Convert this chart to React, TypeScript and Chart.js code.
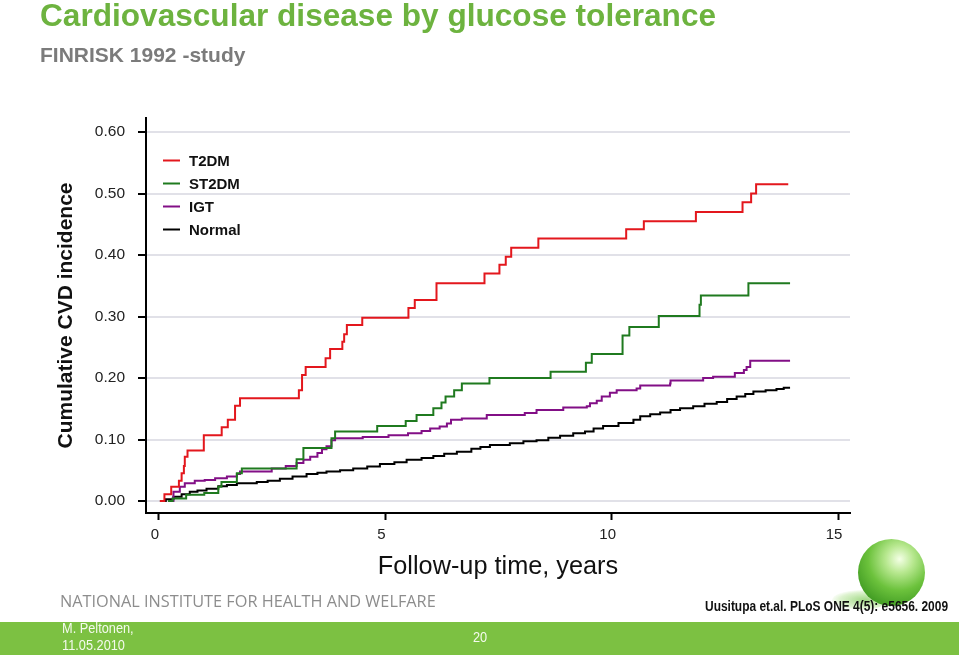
import React, { useEffect, useRef } from "react";
import { Chart, registerables } from "chart.js";

Chart.register(...registerables);

// ---------------- data ----------------
const seriesLabels = ["T2DM", "ST2DM", "IGT", "Normal"];
const seriesColors = ["#e3171d", "#1f7a1f", "#820f86", "#000000"];

const t2dmTimes = [0.02, 0.12, 0.27, 0.44, 0.5, 0.55, 0.57, 0.63, 0.99, 1.385, 1.52, 1.68, 1.79, 3.09, 3.16, 3.24, 3.68, 3.78, 4.05, 4.09, 4.15, 4.49, 5.51, 5.65, 6.13, 7.19, 7.52, 7.66, 7.78, 8.38, 10.32, 10.71, 11.86, 12.89, 13.08, 13.19, 13.9];
const t2dmValues = [0, 0.011, 0.023, 0.033, 0.045, 0.057, 0.072, 0.082, 0.107, 0.12, 0.132, 0.155, 0.167, 0.18, 0.205, 0.218, 0.232, 0.247, 0.259, 0.271, 0.286, 0.298, 0.314, 0.327, 0.354, 0.37, 0.384, 0.397, 0.412, 0.427, 0.442, 0.455, 0.47, 0.486, 0.5, 0.515, 0.515];

const st2dmTimes = [0.2, 0.3, 0.6, 1.0, 1.31, 1.38, 1.72, 1.83, 3.04, 3.19, 3.81, 3.89, 4.82, 5.45, 5.69, 6.06, 6.24, 6.33, 6.52, 6.69, 7.3, 8.65, 9.43, 9.56, 10.24, 10.39, 11.04, 11.94, 11.97, 13.02, 13.94];
const st2dmValues = [0, 0.004, 0.01, 0.013, 0.023, 0.031, 0.045, 0.053, 0.068, 0.086, 0.102, 0.113, 0.122, 0.13, 0.14, 0.151, 0.16, 0.17, 0.18, 0.191, 0.2, 0.21, 0.225, 0.239, 0.269, 0.283, 0.301, 0.319, 0.334, 0.354, 0.354];

const igtTimes = [0.28, 0.32, 0.46, 0.57, 0.79, 1.01, 1.24, 1.5, 1.72, 1.79, 2.49, 2.8, 3.04, 3.19, 3.34, 3.5, 3.6, 3.7, 3.81, 3.89, 4.5, 5.07, 5.5, 5.8, 5.99, 6.2, 6.36, 6.45, 6.69, 7.24, 8.08, 8.34, 8.93, 9.45, 9.52, 9.67, 9.78, 9.96, 10.11, 10.55, 10.63, 11.29, 11.3, 12.02, 12.24, 12.72, 12.92, 12.98, 13.06, 13.94];
const igtValues = [0, 0.015, 0.023, 0.029, 0.033, 0.034, 0.037, 0.04, 0.044, 0.048, 0.053, 0.057, 0.062, 0.067, 0.072, 0.078, 0.084, 0.089, 0.099, 0.102, 0.104, 0.107, 0.11, 0.114, 0.118, 0.121, 0.126, 0.132, 0.134, 0.14, 0.143, 0.148, 0.152, 0.154, 0.159, 0.163, 0.17, 0.176, 0.18, 0.183, 0.188, 0.191, 0.196, 0.2, 0.202, 0.208, 0.213, 0.218, 0.228, 0.228];

const normalTimes = [0.02, 0.15, 0.32, 0.5, 0.68, 0.85, 1.05, 1.31, 1.5, 1.72, 2.16, 2.4, 2.67, 2.95, 3.26, 3.5, 3.7, 4.0, 4.29, 4.6, 4.88, 5.2, 5.47, 5.8, 6.06, 6.3, 6.58, 6.9, 7.1, 7.31, 7.75, 8.05, 8.34, 8.6, 8.86, 9.15, 9.41, 9.6, 9.81, 10.15, 10.48, 10.63, 10.85, 11.07, 11.3, 11.51, 11.8, 12.05, 12.32, 12.55, 12.76, 12.95, 13.13, 13.4, 13.64, 13.8, 13.94];
const normalValues = [0, 0.003, 0.007, 0.011, 0.015, 0.017, 0.02, 0.024, 0.026, 0.029, 0.031, 0.033, 0.036, 0.04, 0.044, 0.046, 0.048, 0.05, 0.053, 0.056, 0.06, 0.063, 0.067, 0.07, 0.073, 0.077, 0.08, 0.085, 0.088, 0.091, 0.094, 0.097, 0.099, 0.103, 0.106, 0.11, 0.113, 0.118, 0.122, 0.127, 0.132, 0.138, 0.141, 0.144, 0.148, 0.151, 0.154, 0.158, 0.161, 0.166, 0.17, 0.174, 0.178, 0.18, 0.182, 0.184, 0.184];

const yTickValues = [0, 0.1, 0.2, 0.3, 0.4, 0.5, 0.6];
const xTickValues = [0, 5, 10, 15];

const chartTitle = "Cardiovascular disease by glucose tolerance";
const chartSubtitle = "FINRISK 1992 -study";
const yAxisTitle = "Cumulative CVD incidence";
const xAxisTitle = "Follow-up time, years";

// ---------------- helpers ----------------
const SANS = '"Liberation Sans", Arial, Helvetica, sans-serif';

const toPoints = (xs: number[], ys: number[]) => xs.map((x, i) => ({ x, y: ys[i] }));
const seriesTimes = [t2dmTimes, st2dmTimes, igtTimes, normalTimes];
const seriesValues = [t2dmValues, st2dmValues, igtValues, normalValues];

const insideLegend = {
  id: "insideLegend",
  afterDatasetsDraw(chart: any) {
    const { ctx, chartArea } = chart;
    ctx.save();
    chart.data.datasets.forEach((ds: any, i: number) => {
      const y = chartArea.top + 42.5 + i * 23;
      ctx.strokeStyle = ds.borderColor;
      ctx.lineWidth = 2;
      ctx.beginPath();
      ctx.moveTo(chartArea.left + 17, y);
      ctx.lineTo(chartArea.left + 34, y);
      ctx.stroke();
      ctx.fillStyle = "#111";
      ctx.font = `bold 15px ${SANS}`;
      ctx.textBaseline = "middle";
      ctx.textAlign = "left";
      ctx.fillText(ds.label, chartArea.left + 43, y + 1);
    });
    ctx.restore();
  },
};

const narrow = (scale: number): React.CSSProperties => ({
  transform: `scaleX(${scale})`,
  transformOrigin: "left center",
});

export default function App() {
  const canvasRef = useRef<HTMLCanvasElement | null>(null);

  useEffect(() => {
    if (!canvasRef.current) return;
    const chart = new Chart(canvasRef.current, {
      type: "line",
      data: {
        datasets: seriesLabels.map((label, i) => ({
          label,
          data: toPoints(seriesTimes[i], seriesValues[i]),
          borderColor: seriesColors[i],
          backgroundColor: seriesColors[i],
          borderWidth: 2,
          pointRadius: 0,
          stepped: "before" as const,
          fill: false,
          tension: 0,
        })),
      },
      options: {
        animation: false,
        responsive: false,
        maintainAspectRatio: false,
        devicePixelRatio: 1,
        layout: { padding: { left: 0, top: 118, right: 109, bottom: 0 } },
        plugins: { legend: { display: false }, tooltip: { enabled: false } },
        scales: {
          x: {
            type: "linear",
            min: -0.287,
            max: 15.264,
            afterBuildTicks: (s: any) => {
              s.ticks = xTickValues.map((v) => ({ value: v }));
            },
            afterFit: (s: any) => {
              s.height = 142;
            },
            grid: { drawOnChartArea: false, tickColor: "#000", tickLength: 7, tickWidth: 2 },
            border: { color: "#000", width: 2 },
            ticks: {
              font: { family: SANS, size: 15 },
              color: "#222",
              padding: 6,
              labelOffset: -4,
              maxRotation: 0,
              autoSkip: false,
              callback: (v: any) => String(v),
            },
            title: {
              display: true,
              text: xAxisTitle,
              font: { family: SANS, size: 25.3, weight: "normal" },
              color: "#111",
              padding: { top: 0, bottom: 73 },
            },
          },
          y: {
            type: "linear",
            min: -0.0195,
            max: 0.6228,
            afterBuildTicks: (s: any) => {
              s.ticks = yTickValues.map((v) => ({ value: v }));
            },
            afterFit: (s: any) => {
              s.width = 146;
            },
            grid: { color: "#e1e1e8", lineWidth: 2, tickColor: "#000", tickLength: 8, tickWidth: 2 },
            border: { color: "#000", width: 2 },
            ticks: {
              font: { family: SANS, size: 15.5 },
              color: "#222",
              padding: 13,
              autoSkip: false,
              callback: (v: any) => Number(v).toFixed(2),
            },
            title: {
              display: true,
              text: yAxisTitle,
              font: { family: SANS, size: 21, weight: "bold" },
              color: "#111",
              padding: { top: 54, bottom: 0 },
            },
          },
        },
      } as any,
      plugins: [insideLegend],
    });
    return () => chart.destroy();
  }, []);

  return (
    <div style={{ position: "fixed", left: 0, top: 0, width: 959, height: 655, background: "#fff", overflow: "hidden" }}>
      <canvas ref={canvasRef} width={959} height={655} style={{ position: "absolute", left: 0, top: 0, width: 959, height: 655 }} />
      <div style={{ position: "absolute", left: 40, top: 0, fontFamily: SANS, fontWeight: "bold", fontSize: 31.6, lineHeight: "31.6px", color: "#6db33f", whiteSpace: "nowrap" }}>
        {chartTitle}
      </div>
      <div style={{ position: "absolute", left: 40, top: 44.2, fontFamily: SANS, fontWeight: "bold", fontSize: 21, lineHeight: "21px", color: "#7b7b7b", whiteSpace: "nowrap" }}>
        {chartSubtitle}
      </div>
      {/* logo sphere */}
      <div style={{ position: "absolute", left: 832, top: 590, width: 56, height: 20, borderRadius: "50%", background: "radial-gradient(ellipse at 60% 50%, rgba(120,200,80,0.7) 0%, rgba(160,220,120,0.35) 55%, rgba(255,255,255,0) 75%)" }} />
      <div style={{ position: "absolute", left: 858, top: 539, width: 67, height: 67, borderRadius: "50%", background: "radial-gradient(circle at 62% 30%, #f4ffe6 0%, #b8e890 22%, #6cc23c 50%, #3f9a22 80%, #2c7a16 100%)" }} />
      <div style={{ position: "absolute", left: 60, top: 592.5, fontFamily: '"Open Sans", sans-serif', fontSize: 16.3, lineHeight: "16.3px", color: "#8d8d8d", whiteSpace: "nowrap" }}>
        NATIONAL INSTITUTE FOR HEALTH AND WELFARE
      </div>
      <div style={{ position: "absolute", left: 705, top: 599, fontFamily: SANS, fontWeight: "bold", fontSize: 14.5, lineHeight: "14.5px", color: "#111", whiteSpace: "nowrap", ...narrow(0.824) }}>
        Uusitupa et.al. PLoS ONE 4(5): e5656. 2009
      </div>
      <div style={{ position: "absolute", left: 0, top: 622, width: 959, height: 33, background: "#7cc142" }} />
      <div style={{ position: "absolute", left: 62, top: 621, fontFamily: SANS, fontSize: 14.5, lineHeight: "14.5px", color: "#f4faee", whiteSpace: "nowrap", ...narrow(0.88) }}>
        M. Peltonen,
      </div>
      <div style={{ position: "absolute", left: 62, top: 638, fontFamily: SANS, fontSize: 14.5, lineHeight: "14.5px", color: "#f4faee", whiteSpace: "nowrap", ...narrow(0.88) }}>
        11.05.2010
      </div>
      <div style={{ position: "absolute", left: 473, top: 630, fontFamily: SANS, fontSize: 14.5, lineHeight: "14.5px", color: "#f4faee", whiteSpace: "nowrap", ...narrow(0.88) }}>
        20
      </div>
    </div>
  );
}
